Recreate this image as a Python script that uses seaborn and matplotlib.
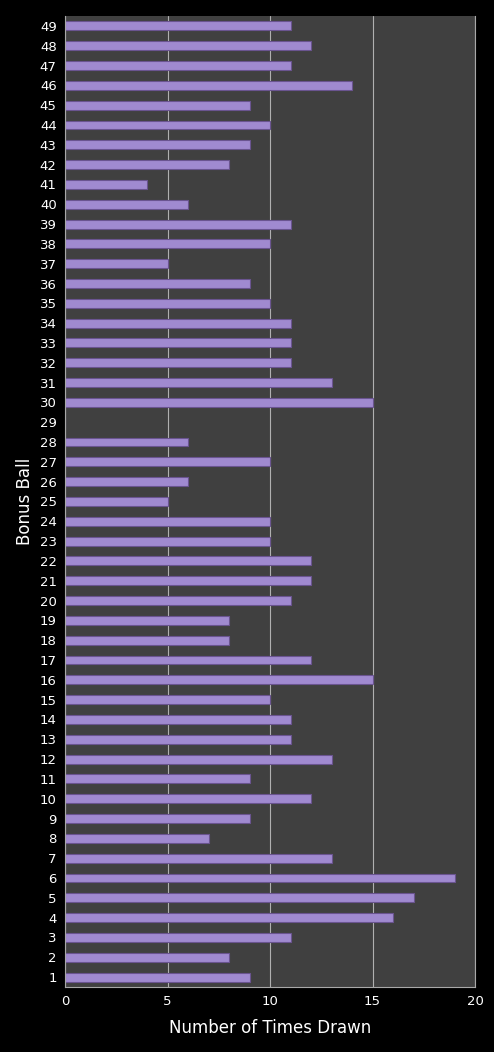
import pandas as pd
import matplotlib
matplotlib.use("Agg")
import matplotlib.pyplot as plt
import seaborn as sns

# Bonus ball numbers and how many times each was drawn
balls = list(range(1, 50))
times_drawn = [9, 8, 11, 16, 17, 19, 13, 7, 9, 12,
               9, 13, 11, 11, 10, 15, 12, 8, 8, 11,
               12, 12, 10, 10, 5, 6, 10, 6, 0, 15,
               13, 11, 11, 11, 10, 9, 5, 10, 11, 6,
               4, 8, 9, 10, 9, 14, 11, 12, 11]
x_ticks = [0, 5, 10, 15, 20]

df = pd.DataFrame({"ball": [str(b) for b in balls], "count": times_drawn})
order = [str(b) for b in reversed(balls)]

sns.set_theme(style="dark")
plt.rcParams['font.family'] = ['DejaVu Sans']

fig = plt.figure(figsize=(4.94, 10.52), dpi=100, facecolor="black")
ax = fig.add_axes([0.1316, 0.0618, 0.83, 0.923])
ax.set_facecolor("#404040")

sns.barplot(data=df, x="count", y="ball", order=order, orient="h",
            color="#a08ad0", width=0.45, edgecolor="#6a5490", linewidth=0.8,
            saturation=1, ax=ax)

ax.set_xlim(0, 20)
ax.set_xticks(x_ticks)
ax.set_xticklabels([str(t) for t in x_ticks])
ax.xaxis.grid(True, color="#b0b0b0", linewidth=0.8)
ax.yaxis.grid(False)
ax.set_axisbelow(True)

ax.spines["top"].set_visible(False)
for side in ["left", "bottom", "right"]:
    ax.spines[side].set_visible(True)
    ax.spines[side].set_color("#a8a8a8")
    ax.spines[side].set_linewidth(0.8)

ax.tick_params(axis="both", colors="white", labelsize=9.5, length=0, pad=6)
ax.set_xlabel("Number of Times Drawn", color="white", fontsize=12, labelpad=8)
ax.set_ylabel("Bonus Ball", color="white", fontsize=12, labelpad=4)

fig.savefig("out.png", dpi=100, facecolor="black")
